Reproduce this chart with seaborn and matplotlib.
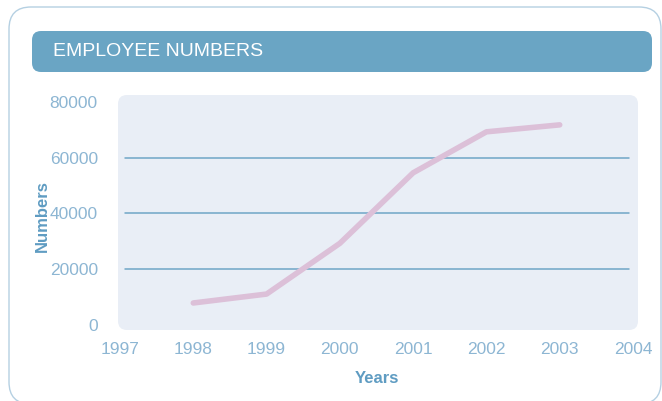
import matplotlib
matplotlib.use("Agg")
import matplotlib.pyplot as plt
from matplotlib.patches import FancyBboxPatch
from matplotlib.transforms import IdentityTransform
import seaborn as sns
import pandas as pd

years = [1998, 1999, 2000, 2001, 2002, 2003]
numbers = [7900, 11100, 29300, 54600, 69300, 71800]
x_ticks = [1997, 1998, 1999, 2000, 2001, 2002, 2003, 2004]
y_ticks = [0, 20000, 40000, 60000, 80000]

sns.set_style("white")
plt.rcParams['font.family'] = ['Liberation Sans', 'DejaVu Sans']

df = pd.DataFrame({"Years": years, "Numbers": numbers})

tick_col = "#8db6d3"
label_col = "#5f9cc2"
grid_col = "#6fa6c6"

W, H = 662, 401
fig = plt.figure(figsize=(W / 100, H / 100), dpi=100)

def fx(px):
    return px / W

def fy(py):
    return 1 - py / H

def box(x0, y0, x1, y1, r, **kw):
    # pixel box (top-left origin) drawn in display coords
    p = FancyBboxPatch((x0, H - y1), x1 - x0, y1 - y0,
                       boxstyle=f"round,pad=0,rounding_size={r}",
                       transform=IdentityTransform(), **kw)
    fig.patches.append(p)
    return p

# outer card, title bar, plot panel
box(9, 7, 661, 404, 22, facecolor="white", edgecolor="#b5d0e2", linewidth=1.0, zorder=-3)
box(32, 31, 652, 72, 9, facecolor="#6aa5c4", edgecolor="none", zorder=-2)
box(118, 95, 638, 330, 9, facecolor="#e9eef6", edgecolor="none", zorder=-1)

fig.text(fx(53), fy(52), "EMPLOYEE NUMBERS", color="white", fontsize=14,
         va="center", ha="left")

ax = fig.add_axes([fx(120), fy(325), fx(633) - fx(120), fy(102) - fy(325)])
ax.patch.set_alpha(0)

for v in y_ticks[1:-1]:
    ax.axhline(v, xmin=0.01, xmax=0.993, color=grid_col, linewidth=1.1, zorder=1)

sns.lineplot(data=df, x="Years", y="Numbers", ax=ax, color="#dcc0d8",
             linewidth=4, solid_capstyle="round", zorder=3)

ax.set_xlim(1997, 2004)
ax.set_ylim(0, 80000)
ax.set_xticks(x_ticks)
ax.set_yticks(y_ticks)
ax.set_xticklabels([str(t) for t in x_ticks])
ax.set_yticklabels([str(t) for t in y_ticks])
ax.tick_params(length=0, colors=tick_col, labelsize=12.5)
ax.tick_params(axis="x", pad=12)
ax.tick_params(axis="y", pad=16)
for s in ax.spines.values():
    s.set_visible(False)

ax.set_xlabel("Years", color=label_col, fontsize=12, fontweight="bold", labelpad=10)
ax.set_ylabel("Numbers", color=label_col, fontsize=12, fontweight="bold")
ax.yaxis.set_label_coords(-0.137, 0.49)

fig.savefig("out.png", dpi=100)
